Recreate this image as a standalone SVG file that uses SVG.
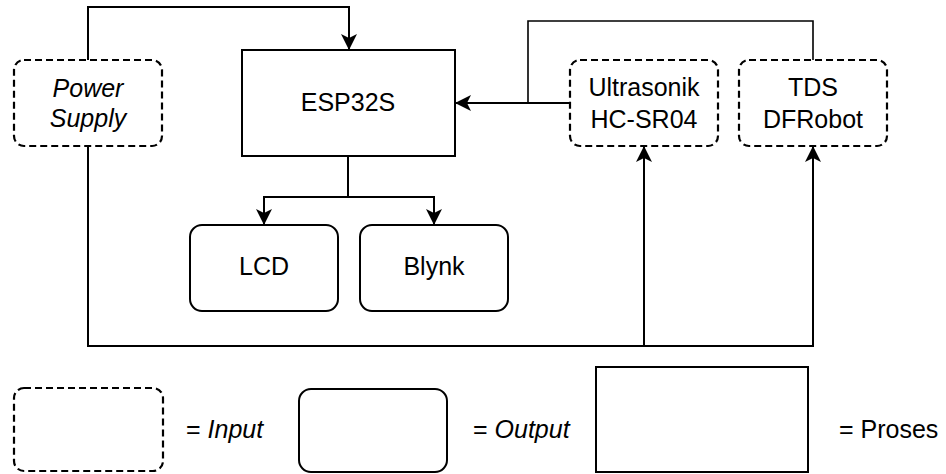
<svg xmlns="http://www.w3.org/2000/svg" width="946" height="474" viewBox="0 0 946 474">
<style>
.box{fill:#fff;stroke:#000;stroke-width:2}
.in{fill:#fff;stroke:#000;stroke-width:2.2;stroke-dasharray:7 4}
.t{font-family:"Liberation Sans",Arial,sans-serif;font-size:25px;fill:#000;text-anchor:middle}
.l{font-family:"Liberation Sans",Arial,sans-serif;font-size:25px;fill:#000}
.ln{fill:none;stroke:#000;stroke-width:2}
</style>
<defs>
<marker id="arr" markerUnits="userSpaceOnUse" markerWidth="18" markerHeight="18" refX="15" refY="8" orient="auto">
<path d="M0,0 L16,8 L0,16 L4,8 Z" fill="#000"/>
</marker>
</defs>
<rect width="946" height="474" fill="#fff"/>
<g id="connectors">
<path class="ln" d="M88,60 V7 H349 V49" marker-end="url(#arr)"/>
<path class="ln" d="M570,103 H456" marker-end="url(#arr)"/>
<path class="ln" d="M528,103 V21 H813 V60" style="stroke-width:1.6"/>
<path class="ln" d="M88,146 V346 H813 V147" marker-end="url(#arr)"/>
<path class="ln" d="M644,346 V147" marker-end="url(#arr)"/>
<path class="ln" d="M348,156 V197 H264 V224" marker-end="url(#arr)"/>
<path class="ln" d="M348,197 H434 V224" marker-end="url(#arr)"/>
</g>
<g id="power">
<rect class="in" x="14" y="60" width="148" height="86" rx="10"/>
<text class="t" x="88" y="97" font-style="italic">Power</text>
<text class="t" x="88" y="127" font-style="italic">Supply</text>
</g>
<g id="esp32s">
<rect class="box" x="242" y="50" width="213" height="106"/>
<text class="t" x="348" y="111">ESP32S</text>
</g>
<g id="ultrasonik">
<rect class="in" x="570" y="60" width="148" height="86" rx="10"/>
<text class="t" x="644" y="96">Ultrasonik</text>
<text class="t" x="644" y="128">HC-SR04</text>
</g>
<g id="tds">
<rect class="in" x="739" y="60" width="148" height="86" rx="10"/>
<text class="t" x="813" y="96">TDS</text>
<text class="t" x="813" y="128">DFRobot</text>
</g>
<g id="lcd">
<rect class="box" x="190" y="225" width="148" height="86" rx="12"/>
<text class="t" x="264" y="275">LCD</text>
</g>
<g id="blynk">
<rect class="box" x="360" y="225" width="148" height="86" rx="12"/>
<text class="t" x="434" y="275">Blynk</text>
</g>
<g id="legend-input">
<rect class="in" x="14" y="388" width="149" height="83" rx="10"/>
<text class="l" x="186" y="438">= <tspan font-style="italic">Input</tspan></text>
</g>
<g id="legend-output">
<rect class="box" x="299" y="389" width="148" height="83" rx="12"/>
<text class="l" x="473" y="438">= <tspan font-style="italic">Output</tspan></text>
</g>
<g id="legend-proses">
<rect class="box" x="596" y="367" width="212" height="105"/>
<text class="l" x="839" y="438">= Proses</text>
</g>
</svg>
